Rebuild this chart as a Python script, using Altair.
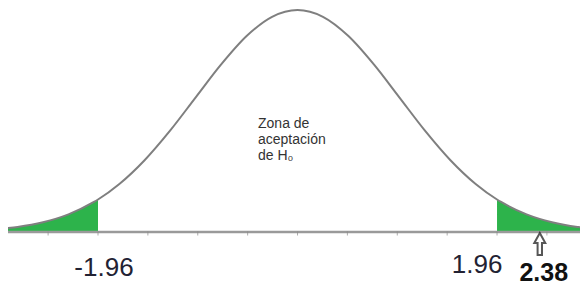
import altair as alt
import pandas as pd

# Standard normal curve (x in z units, y = density)
curve_x = [-2.844, -2.75, -2.5, -2.25, -2.0, -1.96, -1.75, -1.5, -1.25, -1.0, -0.75, -0.5, -0.25,
           0.0, 0.25, 0.5, 0.75, 1.0, 1.25, 1.5, 1.75, 1.96, 2.0, 2.25, 2.5, 2.75, 2.775]
curve_y = [0.0070, 0.0091, 0.0175, 0.0317, 0.0540, 0.0584, 0.0863, 0.1295, 0.1826, 0.2420, 0.3011, 0.3521, 0.3867,
           0.3989, 0.3867, 0.3521, 0.3011, 0.2420, 0.1826, 0.1295, 0.0863, 0.0584, 0.0540, 0.0317, 0.0175, 0.0091, 0.0085]

x_domain = [-2.844, 2.775]
y_domain = [-0.0988, 0.4025]

critical = [-1.96, 1.96]
statistic = 2.38
tick_values = [-2.45, -1.96, -1.47, -0.98, -0.49, 0.0, 0.49, 0.98, 1.47, 1.96, 2.45]
zone_text = "Zona de\naceptación\nde H₀"

curve = pd.DataFrame({"x": curve_x, "y": curve_y})
axis_df = pd.DataFrame({"x": [x_domain[0]], "x2": [x_domain[1]], "y": [0.0]})
ticks_df = pd.DataFrame({"x": tick_values, "y": [0.0] * len(tick_values)})
left_lab = pd.DataFrame({"x": [critical[0]], "y": [0.0], "t": ["-1.96"]})
right_lab = pd.DataFrame({"x": [critical[1]], "y": [0.0], "t": ["1.96"]})
stat_df = pd.DataFrame({"x": [statistic], "y": [0.0], "t": ["2.38"]})
zone_df = pd.DataFrame({"x": [0.0], "y": [0.0], "t": [zone_text]})

xs = alt.Scale(domain=x_domain, nice=False, zero=False)
ys = alt.Scale(domain=y_domain, nice=False, zero=False)
X = lambda f="x": alt.X(f"{f}:Q", scale=xs, axis=None)
Y = lambda f="y": alt.Y(f"{f}:Q", scale=ys, axis=None)

base = alt.Chart(curve)
green = "#2db34b"
left_area = base.transform_filter(alt.datum.x <= critical[0]).mark_area(
    color=green, interpolate="monotone").encode(x=X(), y=Y(), y2=alt.datum(0))
right_area = base.transform_filter(alt.datum.x >= critical[1]).mark_area(
    color=green, interpolate="monotone").encode(x=X(), y=Y(), y2=alt.datum(0))

axis_line = alt.Chart(axis_df).mark_rule(color="#9a9a9a", strokeWidth=2.5).encode(
    x=X(), x2="x2:Q", y=Y())
ticks = alt.Chart(ticks_df).mark_tick(color="#8a8a8a", orient="vertical", size=4, thickness=1,
                                      yOffset=1.5).encode(x=X(), y=Y())
line = base.mark_line(color="#7f7f7f", strokeWidth=2, interpolate="monotone").encode(x=X(), y=Y())

lab_style = dict(font="Liberation Sans", fontSize=26, color="#222233", baseline="alphabetic", align="center")
lab1 = alt.Chart(left_lab).mark_text(dx=6, dy=44, **lab_style).encode(x=X(), y=Y(), text="t:N")
lab2 = alt.Chart(right_lab).mark_text(dx=-20, dy=41, **lab_style).encode(x=X(), y=Y(), text="t:N")
lab3 = alt.Chart(stat_df).mark_text(dx=4, dy=49, font="Liberation Sans", fontSize=25, fontWeight="bold",
                                    color="#111111", baseline="alphabetic", align="center").encode(
    x=X(), y=Y(), text="t:N")

arrow_path = "M0,-1 L0.5,-0.1 L0.2,-0.1 L0.2,1 L-0.2,1 L-0.2,-0.1 L-0.5,-0.1 Z"
arrow = alt.Chart(stat_df).mark_point(shape=arrow_path, size=484, filled=False, stroke="#111111",
                                      strokeWidth=2, yOffset=12).encode(x=X(), y=Y())

zone = alt.Chart(zone_df).mark_text(font="Liberation Sans", fontSize=14, color="#333333", align="left",
                                    baseline="top", lineBreak="\n", lineHeight=16,
                                    dx=-39.5, dy=-115).encode(x=X(), y=Y(), text="t:N")

chart = alt.layer(left_area, right_area, axis_line, ticks, line, lab1, lab2, lab3, arrow, zone).properties(
    width=572, height=279, padding=0, autosize=alt.AutoSizeParams(type="none"),
    background="white"
).configure_view(stroke=None)

chart.save("out.html", embed_options={"renderer": "svg", "actions": False})
